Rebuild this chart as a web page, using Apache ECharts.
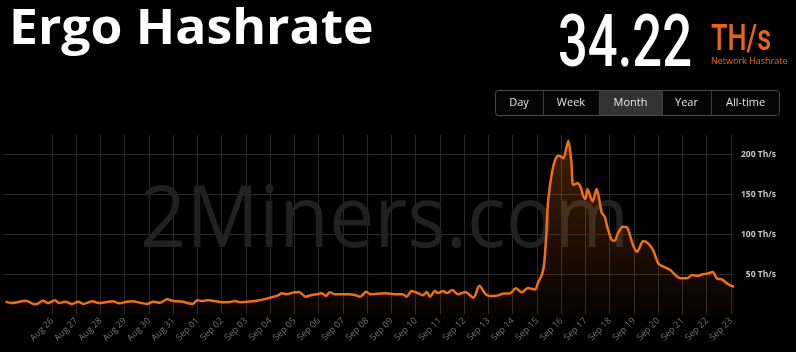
<!DOCTYPE html>
<html><head><meta charset="utf-8">
<script src="https://cdn.jsdelivr.net/npm/echarts@6/dist/echarts.min.js"></script>
<style>html,body{margin:0;padding:0;background:#000;}#c{width:796px;height:352px;}</style>
</head><body><div id="c"></div>
<script>
// hours since 2021-08-24 00:00
const hours = [2,8,16,22,28,32,39,44,51,55,61,68,74,79,88,94,102,108,115,122,128,135,142,148,155,162,168,177,187,192,
196,202,209,216,222,229,234,241,249,256,264,271,276,280,284,288,293,299,305,310,315,319,323,328,335,341,348,353,359,363,
370,378,387,395,399,404,410,415,419,422,427,430,435,439,444,450,457,465,471,477,481,488,496,501,507,513,519,526,529,533,
535,537,539,543,547,550,554,557,559,562,564,568,571,574,576,578,583,587,590,592,595,598,602,605,608,613,617,620,623,627,
630,633,638,643,648,653,660,665,670,676,682,687,692,697,702,706,711,716,723];
const hashrate = [15.8,14.1,15.8,17,13.7,12.5,17,14,17.5,14,15.8,13,15.8,13,16.2,14,15.3,16.2,13.7,15.8,16.2,14.5,13,15.8,14.5,18.7,16.6,15.8,13,17.5,
16.6,17.5,16.6,15,15,16.6,15,15.8,16.6,18.3,20.8,23.3,26.2,25,26.2,27.5,27.5,22,24,25,26.2,23,27.5,25,25,25,24,22,28.3,25,
25.8,26.2,25,25,22,29,26.5,23.8,27.8,22,29,26.5,29,26.5,30.4,25,27.8,20.8,35.8,25.5,23,23.3,26,26,32.5,27.5,33,31,39.5,50,
62,95,141,178,196,198,195,207.5,216.6,190.8,161.6,163.7,159.5,147,144,156.6,140.8,156.6,140.8,127.5,122,107.5,93,92,101,109.5,108.5,99,86.6,78,
84.5,91.6,88.7,80,63.7,59.5,55.4,49,45,45,49,48,50,51,53,45,43.5,38.7,34.2];
const yTickValues = [50,100,150,200];
const yUnit = 'Th/s';
const monthNames = ['Jan','Feb','Mar','Apr','May','Jun','Jul','Aug','Sep','Oct','Nov','Dec'];
const titleText = 'Ergo Hashrate';
const currentValue = '34.22';
const currentUnit = 'TH/s';
const subLabel = 'Network Hashrate';
const watermarkText = '2Miners.com';
const buttonLabels = ['Day','Week','Month','Year','All-time'];
const activeButton = 'Month';

const ORANGE = '#f07010';
const GRID = '#2a2a2a';
const xMin = 0, xMax = 723, xStep = 24, firstLabelled = 48;

function dayLabel(h){
  if (h < firstLabelled || h % xStep !== 0) return '';
  const d = new Date(2021, 7, 24 + h / 24);
  return monthNames[d.getMonth()] + ' ' + String(d.getDate()).padStart(2,'0');
}
const xLineColors = [];
for (let h = xMin; h <= xMax; h += xStep) xLineColors.push(h >= firstLabelled ? GRID : 'rgba(0,0,0,0)');
xLineColors.push('rgba(0,0,0,0)');

const btnEdges = [495,543,599,662,711,780];
const graphics = [];
graphics.push({type:'text', z:1, x:140, y:222, scaleX:0.94,
  style:{text:watermarkText, font:'normal 86px "Open Sans"', fill:'#212121', textVerticalAlign:'middle', textAlign:'left'}});
graphics.push({type:'text', z:100, x:9, y:30, scaleX:1.075,
  style:{text:titleText, font:'bold 48px "Open Sans"', fill:'#fff', textVerticalAlign:'middle'}});
graphics.push({type:'text', z:100, x:558, y:48, scaleX:0.72,
  style:{text:currentValue, font:'500 73px Roboto', fill:'#fff', textVerticalAlign:'middle'}});
graphics.push({type:'text', z:100, x:711, y:41, scaleX:0.75,
  style:{text:currentUnit, font:'500 36px Roboto', fill:'#e8680f', textVerticalAlign:'middle'}});
graphics.push({type:'text', z:100, x:711, y:61,
  style:{text:subLabel, font:'normal 9px "Open Sans"', fill:'#e8680f', textVerticalAlign:'middle'}});
graphics.push({type:'rect', z:100, shape:{x:495.5,y:90.5,width:284,height:25,r:3}, style:{fill:'#050505', stroke:'#4a4a4a', lineWidth:1}});
buttonLabels.forEach((b,i)=>{
  const x0 = btnEdges[i], x1 = btnEdges[i+1];
  if (b === activeButton) graphics.push({type:'rect', z:101, shape:{x:x0+0.5,y:91,width:x1-x0,height:24}, style:{fill:'#333'}});
  if (i > 0) graphics.push({type:'line', z:102, shape:{x1:x0+0.5,y1:91,x2:x0+0.5,y2:115}, style:{stroke:'#3c3c3c', lineWidth:1}});
  graphics.push({type:'text', z:103, x:(x0+x1)/2, y:103,
    style:{text:b, font:'normal 11px "Open Sans"', fill:'#e6e6e6', textAlign:'center', textVerticalAlign:'middle'}});
});

const chart = echarts.init(document.getElementById('c'), null, {renderer:'canvas'});
chart.setOption({
  backgroundColor:'#000',
  animation:false,
  grid:{left:3.5, right:62, top:135, bottom:37.7, outerBoundsMode:'none', containLabel:false},
  xAxis:{type:'value', min:xMin, max:xMax, interval:xStep,
    axisLine:{show:false}, axisTick:{show:false},
    splitLine:{show:true, lineStyle:{color:xLineColors, width:1}},
    axisLabel:{formatter:dayLabel, rotate:45, margin:5, fontSize:9, color:'#757575', fontFamily:'"Open Sans"', showMinLabel:true, showMaxLabel:true}},
  yAxis:{type:'value', position:'right', min:0, max:224, interval:50,
    axisLine:{show:false}, axisTick:{show:false},
    splitLine:{show:true, showMinLine:false, showMaxLine:false, lineStyle:{color:GRID, width:1}},
    axisLabel:{formatter:v => yTickValues.includes(v) ? v + ' ' + yUnit : '', align:'right', margin:42,
      fontSize:8.5, fontWeight:'bold', color:'#c8c8c8', fontFamily:'"Open Sans"'}},
  graphic:graphics,
  series:[{type:'line', data:hours.map((h,i)=>[h, hashrate[i]]), smooth:0.3, showSymbol:false, z:2,
    lineStyle:{color:ORANGE, width:2.5},
    areaStyle:{color:new echarts.graphic.LinearGradient(0,0,0,1,[{offset:0,color:'rgba(240,110,20,0.40)'},{offset:1,color:'rgba(240,110,20,0.04)'}])}}]
});
</script></body></html>
